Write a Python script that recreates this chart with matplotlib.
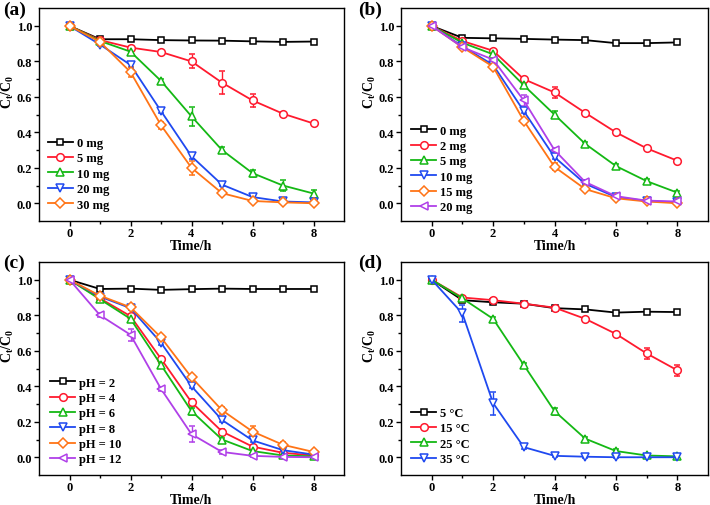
import numpy as np
import matplotlib
matplotlib.use("Agg")
from matplotlib import pyplot as plt
from matplotlib.lines import Line2D

plt.rcParams['font.family'] = 'Liberation Serif'
plt.rcParams['font.weight'] = 'bold'
plt.rcParams['mathtext.fontset'] = 'custom'
plt.rcParams['mathtext.rm'] = 'Liberation Serif:bold'
plt.rcParams['mathtext.it'] = 'Liberation Serif:bold'
plt.rcParams['mathtext.default'] = 'rm'

t = [0, 1, 2, 3, 4, 5, 6, 7, 8]

black = '#000000'
red = '#ff1a2e'
green = '#14b814'
blue = '#1f49f0'
orange = '#ff7416'
purple = '#b040e8'

# panel (a) - dosage
a_labels = ['0 mg', '5 mg', '10 mg', '20 mg', '30 mg']
a_vals = [
    [1.0, 0.925, 0.925, 0.92, 0.918, 0.917, 0.913, 0.91, 0.912],
    [1.0, 0.92, 0.878, 0.853, 0.80, 0.68, 0.58, 0.505, 0.45],
    [1.0, 0.915, 0.855, 0.69, 0.49, 0.30, 0.17, 0.10, 0.055],
    [1.0, 0.895, 0.78, 0.52, 0.265, 0.105, 0.035, 0.01, 0.005],
    [1.0, 0.91, 0.74, 0.44, 0.20, 0.057, 0.013, 0.005, 0.0],
]
a_err = [
    [0, 0.005, 0.005, 0.005, 0.005, 0.005, 0.005, 0.005, 0.005],
    [0, 0.01, 0.01, 0.01, 0.04, 0.065, 0.035, 0.01, 0.01],
    [0, 0.01, 0.01, 0.01, 0.055, 0.015, 0.02, 0.03, 0.02],
    [0, 0.01, 0.01, 0.01, 0.015, 0.01, 0.01, 0.005, 0.005],
    [0, 0.01, 0.03, 0.02, 0.04, 0.01, 0.005, 0.005, 0.005],
]

# panel (b)
b_labels = ['0 mg', '2 mg', '5 mg', '10 mg', '15 mg', '20 mg']
b_vals = [
    [1.0, 0.933, 0.93, 0.927, 0.923, 0.92, 0.903, 0.903, 0.907],
    [1.0, 0.915, 0.86, 0.70, 0.625, 0.51, 0.40, 0.31, 0.24],
    [1.0, 0.905, 0.84, 0.665, 0.50, 0.335, 0.21, 0.125, 0.06],
    [1.0, 0.885, 0.78, 0.52, 0.26, 0.11, 0.035, 0.013, 0.005],
    [1.0, 0.88, 0.77, 0.465, 0.205, 0.08, 0.028, 0.01, 0.0],
    [1.0, 0.88, 0.81, 0.58, 0.30, 0.12, 0.04, 0.015, 0.01],
]
b_err = [
    [0, 0.005, 0.005, 0.005, 0.005, 0.01, 0.005, 0.005, 0.005],
    [0, 0.01, 0.01, 0.01, 0.03, 0.01, 0.01, 0.01, 0.01],
    [0, 0.01, 0.01, 0.01, 0.02, 0.01, 0.01, 0.01, 0.01],
    [0, 0.01, 0.01, 0.01, 0.01, 0.01, 0.005, 0.005, 0.005],
    [0, 0.01, 0.01, 0.01, 0.02, 0.01, 0.005, 0.005, 0.005],
    [0, 0.01, 0.01, 0.03, 0.01, 0.01, 0.005, 0.005, 0.005],
]

# panel (c) - pH
c_labels = ['pH = 2', 'pH = 4', 'pH = 6', 'pH = 8', 'pH = 10', 'pH = 12']
c_vals = [
    [1.0, 0.948, 0.95, 0.943, 0.947, 0.95, 0.948, 0.948, 0.948],
    [1.0, 0.895, 0.795, 0.555, 0.31, 0.145, 0.06, 0.025, 0.01],
    [1.0, 0.89, 0.78, 0.52, 0.26, 0.10, 0.035, 0.01, 0.005],
    [1.0, 0.905, 0.84, 0.645, 0.40, 0.21, 0.095, 0.04, 0.015],
    [1.0, 0.91, 0.845, 0.675, 0.45, 0.265, 0.145, 0.07, 0.03],
    [1.0, 0.80, 0.69, 0.385, 0.13, 0.03, 0.008, 0.002, 0.0],
]
c_err = [
    [0, 0.005, 0.005, 0.005, 0.005, 0.005, 0.005, 0.005, 0.005],
    [0, 0.01, 0.01, 0.01, 0.02, 0.015, 0.01, 0.005, 0.005],
    [0, 0.01, 0.01, 0.01, 0.02, 0.01, 0.01, 0.005, 0.005],
    [0, 0.01, 0.01, 0.01, 0.01, 0.01, 0.01, 0.01, 0.005],
    [0, 0.01, 0.01, 0.01, 0.01, 0.02, 0.03, 0.015, 0.01],
    [0, 0.01, 0.035, 0.01, 0.045, 0.01, 0.005, 0.005, 0.005],
]

# panel (d) - temperature
d_labels = ['5 \u00b0C', '15 \u00b0C', '25 \u00b0C', '35 \u00b0C']
d_vals = [
    [1.0, 0.885, 0.873, 0.865, 0.84, 0.833, 0.815, 0.82, 0.818],
    [1.0, 0.90, 0.885, 0.865, 0.843, 0.78, 0.695, 0.585, 0.49],
    [1.0, 0.895, 0.78, 0.52, 0.26, 0.105, 0.035, 0.01, 0.005],
    [1.0, 0.81, 0.305, 0.057, 0.008, 0.003, 0.0, 0.0, 0.0],
]
d_err = [
    [0, 0.005, 0.005, 0.005, 0.005, 0.005, 0.005, 0.005, 0.005],
    [0, 0.01, 0.01, 0.01, 0.01, 0.01, 0.01, 0.03, 0.03],
    [0, 0.01, 0.01, 0.01, 0.02, 0.01, 0.01, 0.005, 0.005],
    [0, 0.05, 0.065, 0.01, 0.005, 0.005, 0.005, 0.005, 0.005],
]

markers = ['s', 'o', '^', 'v', 'D', '<']
msizes = [4.5, 5.5, 5.5, 5.5, 5.0, 5.5]
colors6 = [black, red, green, blue, orange, purple]

W, H = 710, 506
fig = plt.figure(figsize=(7.1, 5.06), dpi=100)


def px_axes(l, r, top, bot):
    return fig.add_axes([l / W, 1 - bot / H, (r - l) / W, (bot - top) / H])


def draw(ax, labels, vals, errs, leg_xy):
    handles = []
    for i, (lab, v, e) in enumerate(zip(labels, vals, errs)):
        ax.errorbar(t, v, yerr=e, color=colors6[i], marker=markers[i],
                    ms=msizes[i], mfc='white', mec=colors6[i], mew=1.1,
                    lw=1.3, capsize=2.5, elinewidth=1.0, capthick=1.0)
        handles.append(Line2D([], [], color=colors6[i], marker=markers[i],
                              ms=msizes[i], mfc='white', mec=colors6[i],
                              mew=1.1, lw=1.3, label=lab))
    ax.set_xlim(-1, 9)
    ax.set_ylim(-0.1, 1.1)
    ax.set_xticks([0, 2, 4, 6, 8])
    ax.set_xticks([1, 3, 5, 7], minor=True)
    ax.set_yticks([0.0, 0.2, 0.4, 0.6, 0.8, 1.0])
    ax.set_yticks([0.1, 0.3, 0.5, 0.7, 0.9], minor=True)
    ax.set_yticklabels(['0.0', '0.2', '0.4', '0.6', '0.8', '1.0'])
    ax.tick_params(direction='out', which='major', length=3.5, width=1,
                   labelsize=9, pad=1.5)
    ax.tick_params(axis='x', which='major', pad=1)
    ax.tick_params(direction='out', which='minor', length=2, width=1)
    for s in ax.spines.values():
        s.set_linewidth(1.0)
    ax.set_xlabel('Time/h', fontsize=10, fontweight='bold', labelpad=0)
    ax.set_ylabel(r'$\mathrm{C_t/C_0}$', fontsize=10)
    ax.yaxis.set_label_coords(-0.076, 0.61)
    lx, ly = leg_xy
    ax.legend(handles=handles, loc='upper left',
              bbox_to_anchor=(lx / W, 1 - ly / H),
              bbox_transform=fig.transFigure, frameon=False,
              handlelength=2.0, handletextpad=0.3, labelspacing=0.27,
              borderpad=0, borderaxespad=0,
              prop={'weight': 'bold', 'size': 9})


axa = px_axes(39, 344, 9.2, 222)
draw(axa, a_labels, a_vals, a_err, (48, 138))
axb = px_axes(401, 708, 9.2, 222)
draw(axb, b_labels, b_vals, b_err, (411, 125.5))
axc = px_axes(39, 344, 263, 476)
draw(axc, c_labels, c_vals, c_err, (50, 377.5))
axd = px_axes(401, 708, 263, 476)
draw(axd, d_labels, d_vals, d_err, (411, 408))

for lab, x, y in [('(a)', 3, 2), ('(b)', 358, 2), ('(c)', 3, 255), ('(d)', 358, 255)]:
    fig.text(x / W, 1 - y / H, lab, fontsize=14, fontweight='bold',
             va='top', ha='left')

fig.savefig('out.png', dpi=100)
